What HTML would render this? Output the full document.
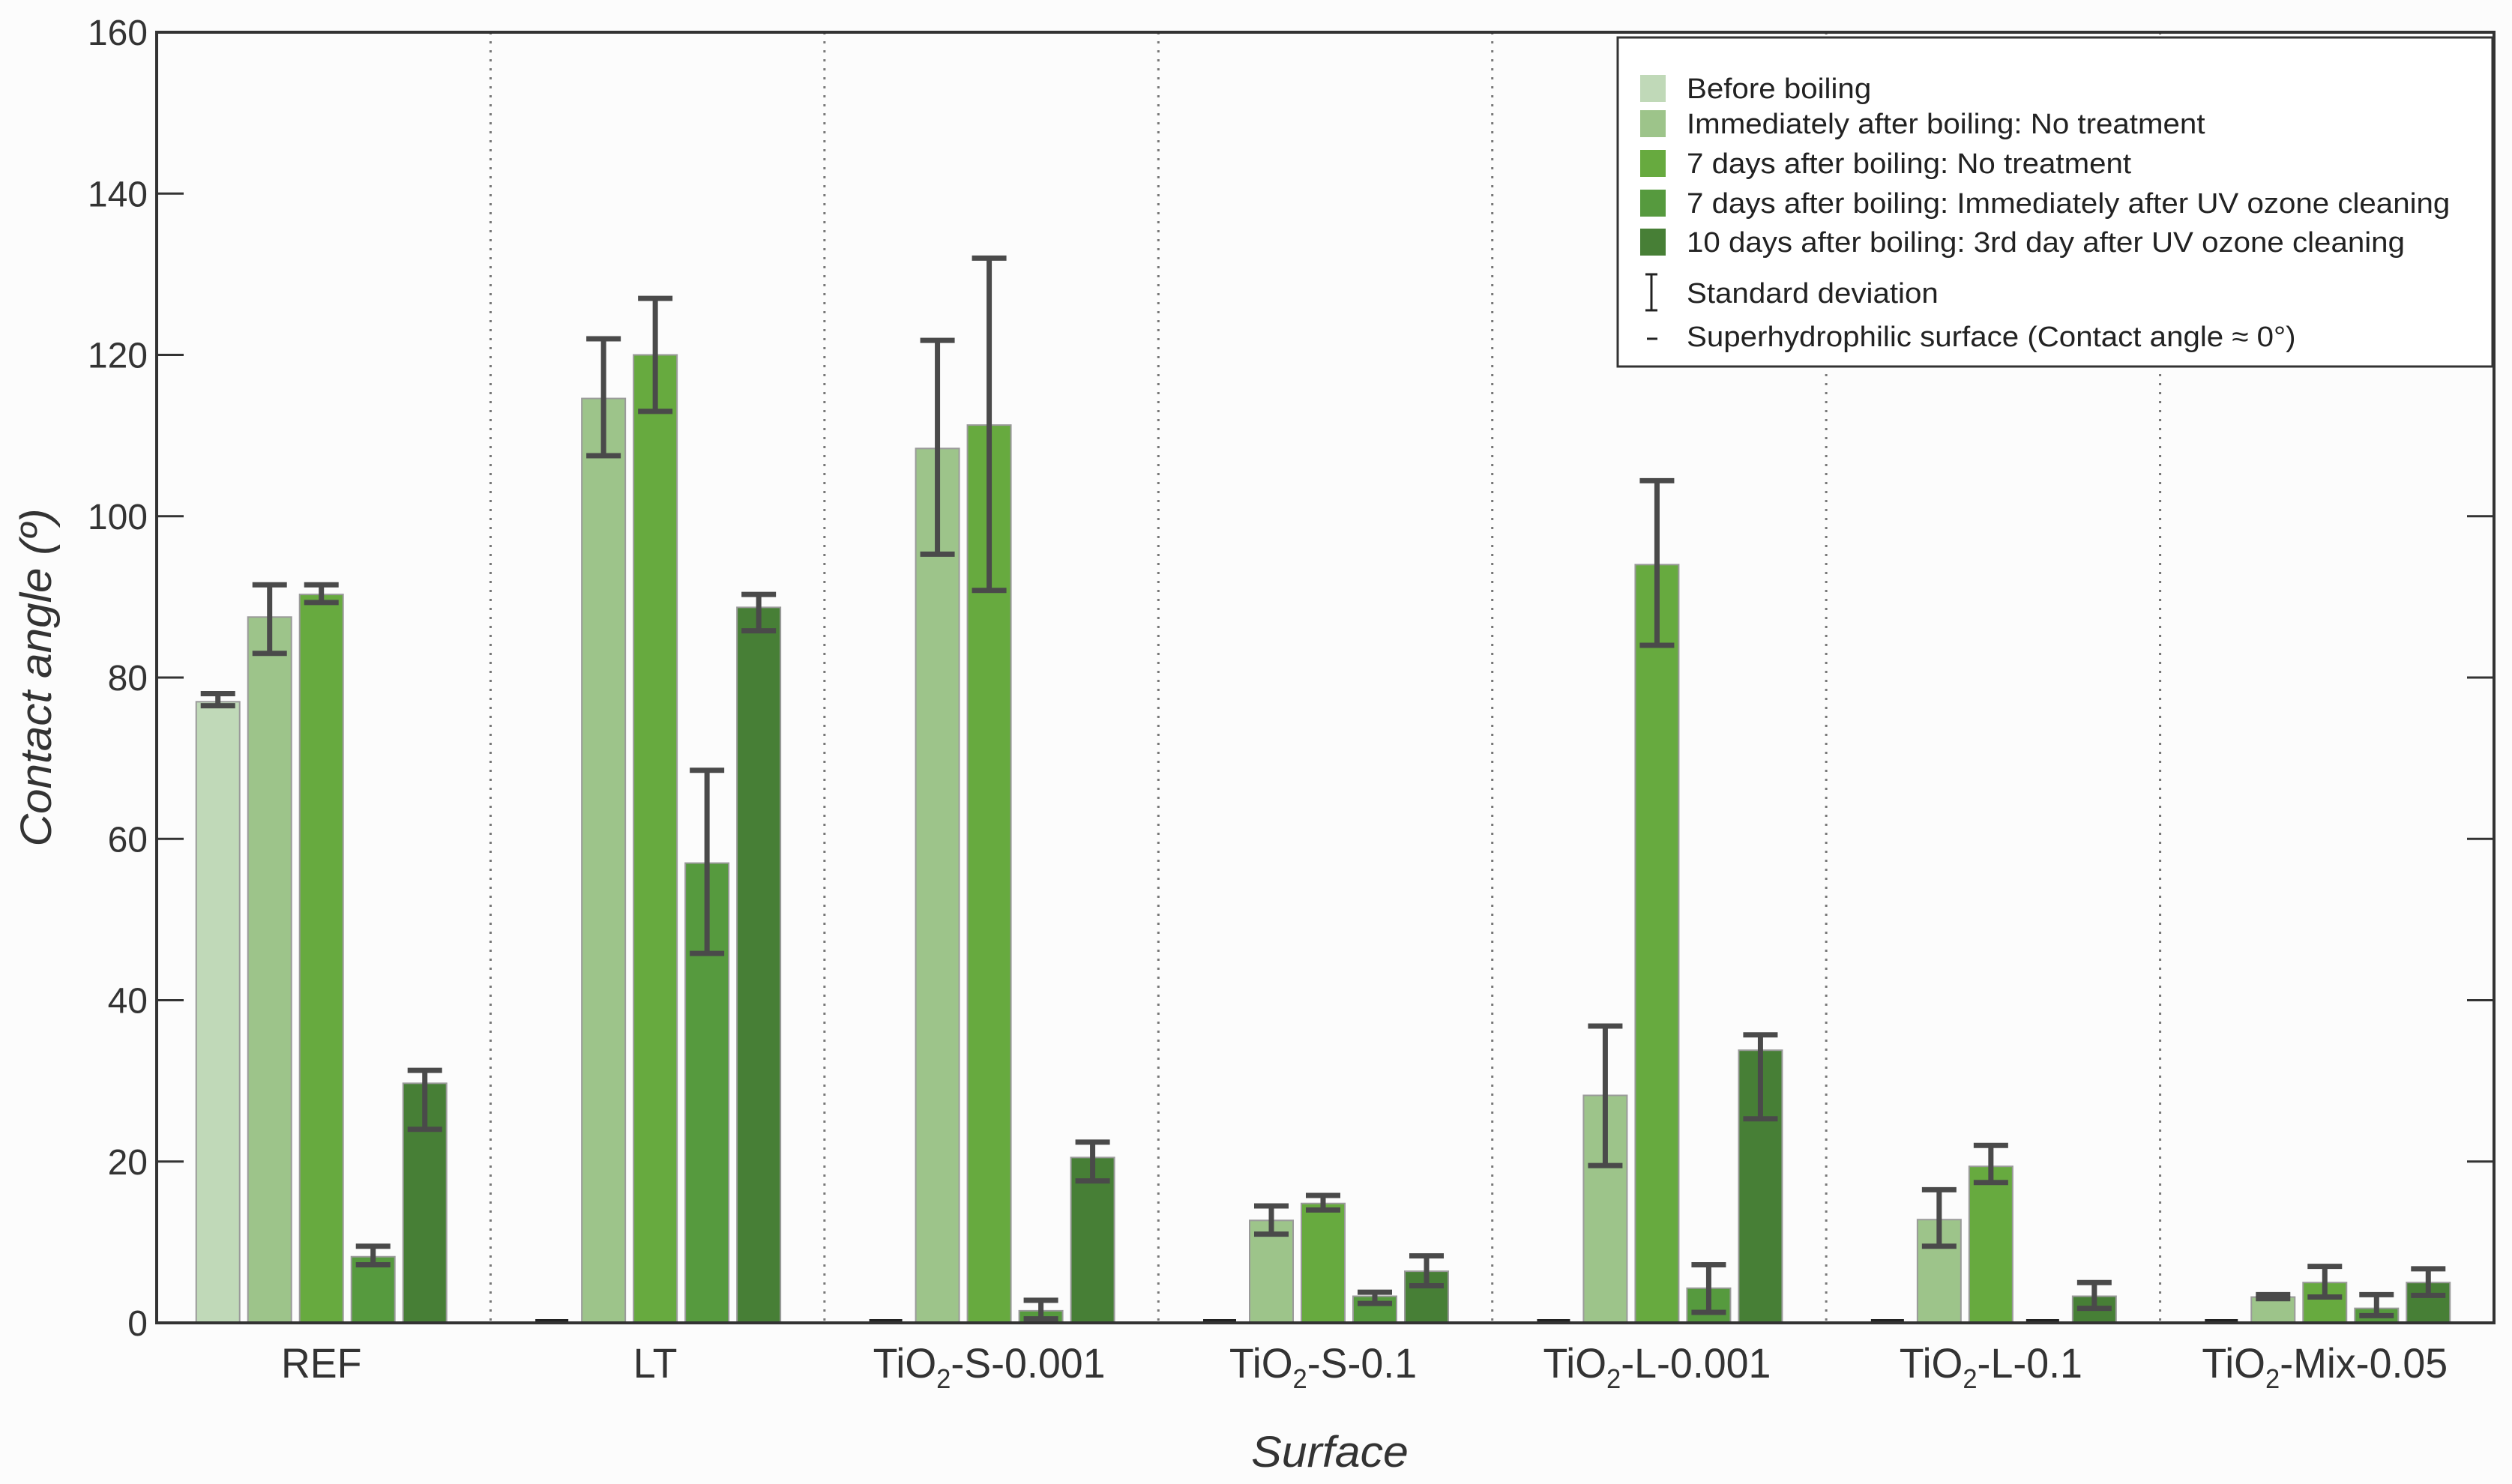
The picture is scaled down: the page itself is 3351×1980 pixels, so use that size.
<!DOCTYPE html>
<html><head><meta charset="utf-8"><style>
html,body{margin:0;padding:0;background:#fcfcfc;}
svg{display:block;font-family:"Liberation Sans",sans-serif;}
</style></head><body>
<svg id="chart" width="3351" height="1980" viewBox="0 0 3351 1980">
<rect x="0" y="0" width="3351" height="1980" fill="#fcfcfc"/>
<g id="plot"></g>
</svg>
<script>
const categories = ["REF","LT","TiO2-S-0.001","TiO2-S-0.1","TiO2-L-0.001","TiO2-L-0.1","TiO2-Mix-0.05"];
const seriesNames = ["Before boiling","Immediately after boiling: No treatment","7 days after boiling: No treatment","7 days after boiling: Immediately after UV ozone cleaning","10 days after boiling: 3rd day after UV ozone cleaning"];
// null = superhydrophilic (contact angle ≈ 0)
const s1 = [77, null, null, null, null, null, null];
const s2 = [87.5, 114.6, 108.4, 12.7, 28.2, 12.8, 3.2];
const s3 = [90.3, 120, 111.3, 14.8, 94, 19.4, 5];
const s4 = [8.2, 57, 1.5, 3.3, 4.3, null, 1.8];
const s5 = [29.7, 88.7, 20.5, 6.4, 33.8, 3.3, 5];
const e1lo = [76.5, null, null, null, null, null, null];
const e1hi = [78, null, null, null, null, null, null];
const e2lo = [83, 107.5, 95.3, 11, 19.5, 9.5, 3];
const e2hi = [91.5, 122, 121.8, 14.5, 36.8, 16.5, 3.5];
const e3lo = [89.3, 113, 90.8, 14, 84, 17.4, 3.2];
const e3hi = [91.5, 127, 132, 15.8, 104.4, 22, 7];
const e4lo = [7.2, 45.8, 0.5, 2.4, 1.3, null, 0.9];
const e4hi = [9.5, 68.5, 2.8, 3.8, 7.2, null, 3.5];
const e5lo = [24, 85.8, 17.6, 4.6, 25.3, 1.8, 3.4];
const e5hi = [31.3, 90.3, 22.4, 8.3, 35.7, 5, 6.7];
const yTicks = [0,20,40,60,80,100,120,140,160];

const series=[s1,s2,s3,s4,s5], elo=[e1lo,e2lo,e3lo,e4lo,e5lo], ehi=[e1hi,e2hi,e3hi,e4hi,e5hi];
const colors=["#c0d9b8","#9dc48a","#67aa3f","#569a3e","#477f36"];
const NS="http://www.w3.org/2000/svg";
const L=209,R=3327,T=43,B=1765,YMAX=160;
const y=v=>B-(v/YMAX)*(B-T);
const band=(R-L)/categories.length;
const xc=i=>L+band*(i+0.5)-3;
const pitch=69,bw=58;
const g=document.getElementById('plot');
function el(tag,attrs,parent){const e=document.createElementNS(NS,tag);for(const k in attrs)e.setAttribute(k,attrs[k]);(parent||g).appendChild(e);return e;}

for(let i=1;i<categories.length;i++){
  const s=el('line',{x1:L+band*i,x2:L+band*i,y1:T,y2:B,stroke:'#777','stroke-width':3,'stroke-dasharray':'3 9'});
  
  
}
categories.forEach((c,i)=>{
  series.forEach((s,j)=>{
    const cx=xc(i)+(j-2)*pitch;
    const v=s[i];
    if(v===null){
      const m=el('rect',{x:cx-22,y:B-5,width:44,height:5,fill:'#222'});
      
      
      return;
    }
    const r=el('rect',{x:cx-bw/2,y:y(v),width:bw,height:B-y(v),fill:colors[j],stroke:'#9a9a9a','stroke-width':2});
    
    
    const lo=elo[j][i],hi=ehi[j][i];
    if(lo!==null){
      const eg=el('g',{stroke:'#4a4a4a','stroke-width':7,fill:'none'});
      
      
      el('line',{x1:cx,x2:cx,y1:y(hi),y2:y(lo)},eg);
      el('line',{x1:cx-23,x2:cx+23,y1:y(hi),y2:y(hi)},eg);
      el('line',{x1:cx-23,x2:cx+23,y1:y(lo),y2:y(lo)},eg);
    }
  });
  const tg=el('g',{transform:`translate(${xc(i)},1838) scale(0.96,1)`});
  
  
  const t=el('text',{x:0,y:0,'text-anchor':'middle','font-size':56,fill:'#333'},tg);
  if(c.startsWith('TiO2')){
    t.appendChild(document.createTextNode('TiO'));
    const sub=el('tspan',{'font-size':36,dy:14},t);sub.textContent='2';
    const rest=el('tspan',{dy:-14},t);rest.textContent=c.slice(4);
  } else t.textContent=c;
});
const fr=el('rect',{x:L,y:T,width:R-L,height:B-T,fill:'none',stroke:'#333','stroke-width':4});


yTicks.forEach(v=>{
  el('line',{x1:L,x2:L+36,y1:y(v),y2:y(v),stroke:'#333','stroke-width':3});
  el('line',{x1:R-36,x2:R,y1:y(v),y2:y(v),stroke:'#333','stroke-width':3});
  const t=el('text',{x:197,y:y(v)+17,'text-anchor':'end','font-size':48,fill:'#333'});
  
  
  t.textContent=v;
});
const yt=el('g',{transform:'translate(68,904) rotate(-90) scale(1.04,1)'});


el('text',{x:0,y:0,'text-anchor':'middle','font-size':58,'font-style':'italic',fill:'#333'},yt).textContent='Contact angle (º)';
const xt=el('g',{transform:'translate(1774,1957) scale(1.05,1)'});


el('text',{x:0,y:0,'text-anchor':'middle','font-size':58,'font-style':'italic',fill:'#333'},xt).textContent='Surface';
const lg=el('g',{});


el('rect',{x:2158,y:50,width:1167,height:439,fill:'#fff',stroke:'#333','stroke-width':3},lg);
const rowsY=[118,165,218,271,323];
const LS=1.06;
seriesNames.forEach((n,j)=>{
  const e=el('g',{},lg);
  
  
  el('rect',{x:2188,y:rowsY[j]-18,width:34,height:36,fill:colors[j]},e);
  const tg=el('g',{transform:`translate(2250,${rowsY[j]+13}) scale(${LS},1)`},e);
  el('text',{x:0,y:0,'font-size':38,fill:'#222'},tg).textContent=n;
});
const sd=el('g',{},lg);


el('path',{d:'M2203 366 V414 M2195 366 H2211 M2195 414 H2211',stroke:'#222','stroke-width':3,fill:'none'},sd);
el('text',{x:0,y:0,'font-size':38,fill:'#222',transform:`translate(2250,404) scale(${LS},1)`},sd).textContent='Standard deviation';
const sh=el('g',{},lg);


el('line',{x1:2197,x2:2211,y1:452,y2:452,stroke:'#222','stroke-width':3},sh);
el('text',{x:0,y:0,'font-size':38,fill:'#222',transform:`translate(2250,462) scale(${LS},1)`},sh).textContent='Superhydrophilic surface (Contact angle ≈ 0°)';
</script>
</body></html>
